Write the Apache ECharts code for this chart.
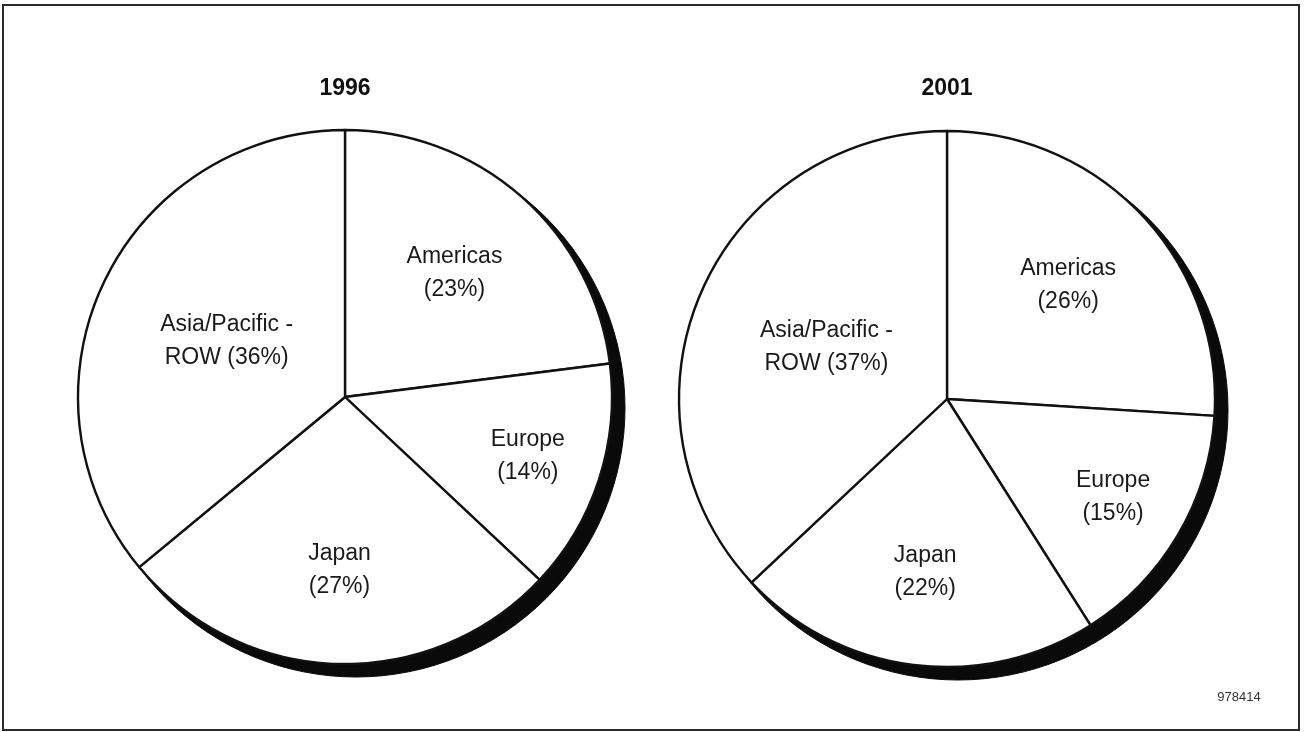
<!DOCTYPE html>
<html>
<head>
<meta charset="utf-8">
<script src="https://cdn.jsdelivr.net/npm/echarts@6/dist/echarts.min.js"></script>
<style>
html,body{margin:0;padding:0;background:#fff;}
#chart{width:1307px;height:732px;}
</style>
</head>
<body>
<div id="chart"></div>
<script>
// ---- data ----
const categories = ['Americas', 'Europe', 'Japan', 'Asia/Pacific - ROW'];
const share1996 = [23, 14, 27, 36];
const share2001 = [26, 15, 22, 37];
const years = ['1996', '2001'];
const figureId = '978414';

// ---- styling / layout ----
const pies = [
  { cx: 345, cy: 397, r: 267, values: share1996, title: years[0] },
  { cx: 947, cy: 399, r: 268, values: share2001, title: years[1] }
];
const labelRadiusRatio = [0.62, 0.72, 0.65, 0.49];
const shadowOffset = [11, 11];
const shadowGrow = 2;
const FONT = '"Liberation Sans", Arial, Helvetica, sans-serif';

function labelText(name, value) {
  if (name.indexOf(' - ') >= 0) {
    const parts = name.split(' - ');
    return parts[0] + ' -\n' + parts[1] + ' (' + value + '%)';
  }
  return name + '\n(' + value + '%)';
}

function makeLabelLayout(p) {
  const total = p.values.reduce((a, b) => a + b, 0);
  return function (params) {
    const i = params.dataIndex;
    let cum = 0;
    for (let k = 0; k < i; k++) cum += p.values[k];
    const f = (cum + p.values[i] / 2) / total;
    const t = f * 2 * Math.PI;
    const rr = labelRadiusRatio[i] * p.r;
    return {
      x: p.cx + rr * Math.sin(t),
      y: p.cy - rr * Math.cos(t),
      align: 'center',
      verticalAlign: 'middle'
    };
  };
}

const series = [];
pies.forEach(function (p) {
  const data = categories.map((c, i) => ({ name: c, value: p.values[i] }));
  const total = p.values.reduce((a, b) => a + b, 0);
  // drop shadow: one whole disc built from the same values
  series.push({
    type: 'pie',
    silent: true,
    z: 1,
    center: [p.cx + shadowOffset[0], p.cy + shadowOffset[1]],
    radius: [0, p.r + shadowGrow],
    label: { show: false },
    labelLine: { show: false },
    itemStyle: { color: '#0a0a0a', borderColor: '#0a0a0a', borderWidth: 1 },
    emphasis: { disabled: true },
    data: [{ name: 'shadow', value: total }]
  });
  series.push({
    type: 'pie',
    silent: true,
    z: 2,
    center: [p.cx, p.cy],
    radius: [0, p.r],
    startAngle: 90,
    clockwise: true,
    itemStyle: { color: '#ffffff', borderColor: '#111111', borderWidth: 2.4 },
    label: {
      show: true,
      position: 'inside',
      formatter: function (prm) { return labelText(prm.name, prm.value); },
      fontFamily: FONT,
      fontSize: 23,
      lineHeight: 33,
      color: '#1a1a1a',
      align: 'center'
    },
    labelLine: { show: false },
    labelLayout: makeLabelLayout(p),
    emphasis: { disabled: true },
    data: data
  });
});

const chart = echarts.init(document.getElementById('chart'), null, { renderer: 'canvas' });
chart.setOption({
  animation: false,
  backgroundColor: '#ffffff',
  graphic: [
    {
      type: 'rect', z: 0,
      shape: { x: 3, y: 5, width: 1296, height: 725 },
      style: { fill: 'none', stroke: '#2a2a2a', lineWidth: 2 }
    },
    {
      type: 'text', z: 10,
      x: pies[0].cx, y: 89,
      style: { text: pies[0].title, fill: '#111', font: 'bold 23px ' + FONT, textAlign: 'center', textVerticalAlign: 'middle' }
    },
    {
      type: 'text', z: 10,
      x: pies[1].cx, y: 89,
      style: { text: pies[1].title, fill: '#111', font: 'bold 23px ' + FONT, textAlign: 'center', textVerticalAlign: 'middle' }
    },
    {
      type: 'text', z: 10,
      x: 1239, y: 697,
      style: { text: figureId, fill: '#333', font: '13px ' + FONT, textAlign: 'center', textVerticalAlign: 'middle' }
    }
  ],
  series: series
});
</script>
</body>
</html>
